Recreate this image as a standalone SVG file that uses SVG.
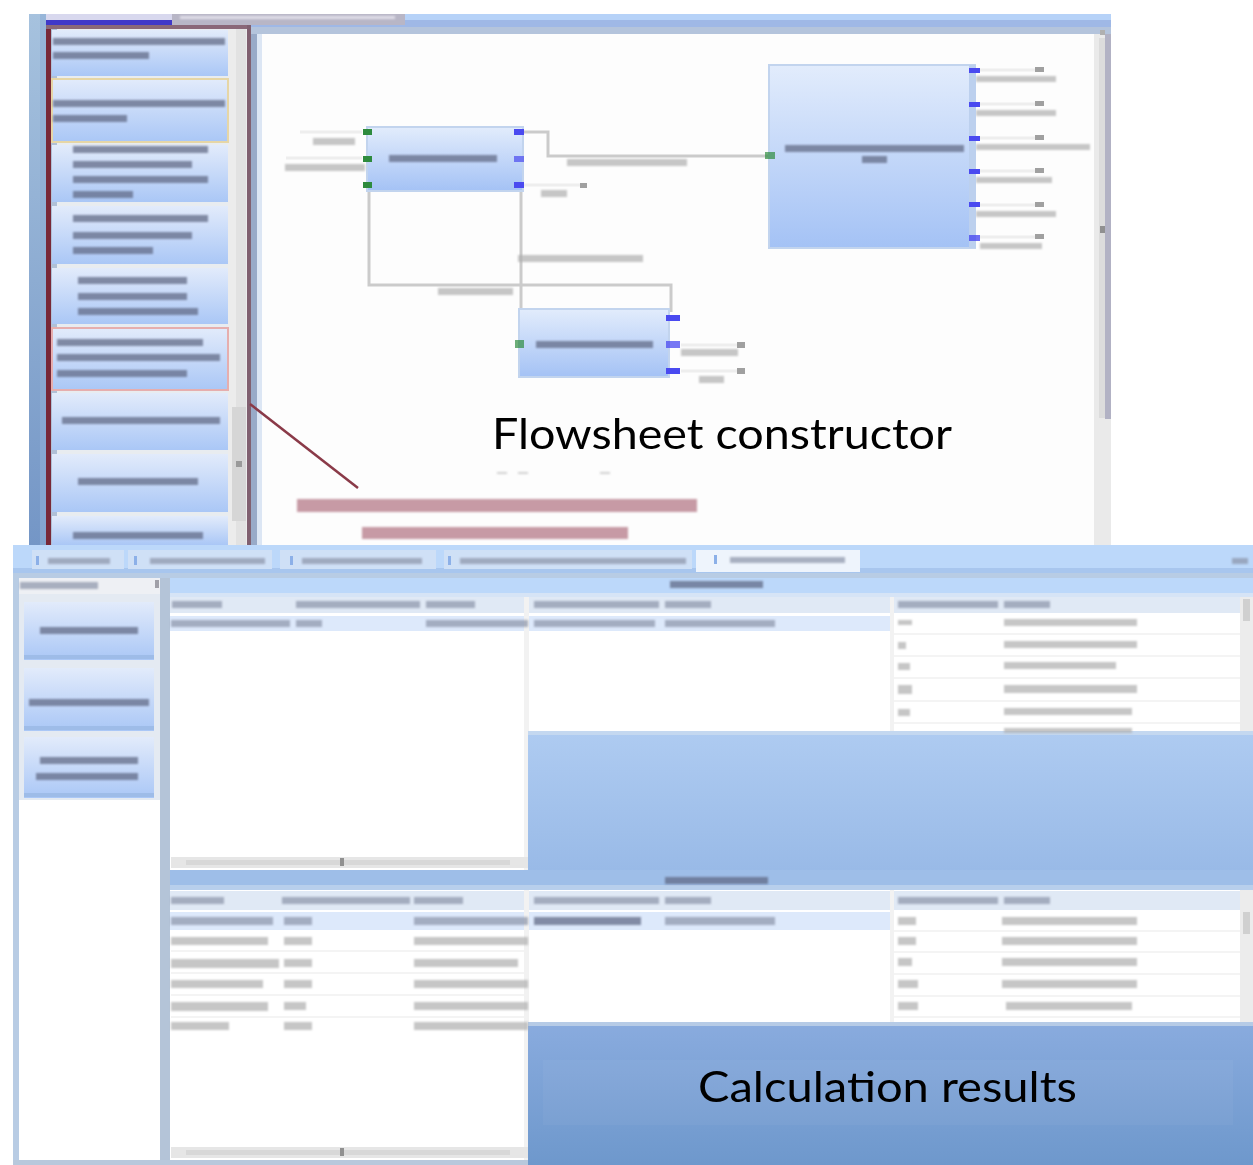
<svg xmlns="http://www.w3.org/2000/svg" width="1253" height="1165" viewBox="0 0 1253 1165">
<defs>
<style>
.t{fill:#5e6884;opacity:.72}
.tl{fill:#a9a9a9;opacity:.8}
.tg{fill:#8a93a8;opacity:.7}
.tv{fill:#b0b0b0;opacity:.72}
.tr{fill:#a4586a;opacity:.6}
.node{fill:url(#ng);stroke:#c2d4ee;stroke-width:2}
.pin{fill:#2e8b3e}
.pout{fill:#4a4af0}
.wire{fill:none;stroke:#cbcbcb;stroke-width:3}
.stub{fill:none;stroke:#eeeeee;stroke-width:3}
.tick{fill:#a0a0a0}
.item{fill:url(#ig)}
.big{font-family:Lato,"Open Sans","Liberation Sans",sans-serif;font-size:43px;fill:#000}
</style>
<linearGradient id="ng" x1="0" y1="0" x2="0" y2="1"><stop offset="0" stop-color="#e2ecfc"/><stop offset="1" stop-color="#a4c2f5"/></linearGradient>
<linearGradient id="ig" x1="0" y1="0" x2="0" y2="1"><stop offset="0" stop-color="#e2ebfb"/><stop offset="1" stop-color="#aac7f6"/></linearGradient>
<linearGradient id="lb" x1="0" y1="0" x2="0" y2="1"><stop offset="0" stop-color="#a6c2de"/><stop offset="1" stop-color="#7496c6"/></linearGradient>
<linearGradient id="up" x1="0" y1="0" x2="0" y2="1"><stop offset="0" stop-color="#aecbf1"/><stop offset="1" stop-color="#99bae7"/></linearGradient>
<linearGradient id="dn" x1="0" y1="0" x2="0" y2="1"><stop offset="0" stop-color="#89abde"/><stop offset="1" stop-color="#6e98cc"/></linearGradient>
<filter id="bl" x="-5%" y="-60%" width="110%" height="220%"><feGaussianBlur stdDeviation="1.1"/></filter>
</defs>

<rect width="1253" height="1165" fill="#ffffff"/>

<!-- ===== Top screenshot: flowsheet constructor ===== -->
<g id="top-window">
<rect x="29" y="14" width="18" height="531" fill="url(#lb)"/>
<rect x="40" y="14" width="6" height="531" fill="#8eaed6" opacity=".6"/>
<rect x="46" y="14" width="1065" height="13" fill="#b6d2f8"/>
<rect x="46" y="20" width="1065" height="7" fill="#9fb8e6"/>
<rect x="46" y="14" width="126" height="7" fill="#d8d8ee"/>
<rect x="46" y="20" width="126" height="6" fill="#4038c8"/>
<rect x="172" y="14" width="233" height="11" fill="#b8b6c6"/>
<g filter="url(#bl)"><rect x="180" y="16" width="215" height="3" fill="#e0dee8"/></g>

<!-- left panel -->
<rect x="51" y="29" width="196" height="516" fill="#e8ecf0"/>
<rect x="51" y="29" width="6" height="516" fill="#b0c0d6"/>
<rect x="228" y="29" width="19" height="516" fill="#ececec"/>
<rect x="236" y="29" width="10" height="516" fill="#e2e2e2"/>
<rect x="232" y="407" width="14" height="114" fill="#d6d6d6"/>
<rect x="236" y="461" width="6" height="6" fill="#9a9a9a"/>

<rect class="item" x="52" y="30" width="176" height="46"/>
<rect class="item" x="52" y="79" width="176" height="63" stroke="#e6d6a6" stroke-width="2"/>
<rect class="item" x="52" y="145" width="176" height="57"/>
<rect class="item" x="52" y="206" width="176" height="58"/>
<rect class="item" x="52" y="268" width="176" height="56"/>
<rect class="item" x="52" y="328" width="176" height="62" stroke="#e6aeae" stroke-width="2"/>
<rect class="item" x="52" y="393" width="176" height="57"/>
<rect class="item" x="52" y="454" width="176" height="58"/>
<rect class="item" x="52" y="516" width="176" height="29"/>

<g filter="url(#bl)">
<rect class="t" x="53" y="38" width="172" height="7"/>
<rect class="t" x="53" y="52" width="96" height="7"/>
<rect class="t" x="53" y="100" width="172" height="7"/>
<rect class="t" x="53" y="115" width="74" height="7"/>
<rect class="t" x="73" y="146" width="135" height="7"/>
<rect class="t" x="73" y="161" width="119" height="7"/>
<rect class="t" x="73" y="176" width="135" height="7"/>
<rect class="t" x="73" y="191" width="60" height="7"/>
<rect class="t" x="73" y="215" width="135" height="7"/>
<rect class="t" x="73" y="232" width="119" height="7"/>
<rect class="t" x="73" y="247" width="80" height="7"/>
<rect class="t" x="78" y="277" width="109" height="7"/>
<rect class="t" x="78" y="293" width="109" height="7"/>
<rect class="t" x="78" y="308" width="120" height="7"/>
<rect class="t" x="57" y="339" width="146" height="7"/>
<rect class="t" x="57" y="354" width="163" height="7"/>
<rect class="t" x="57" y="370" width="130" height="7"/>
<rect class="t" x="62" y="417" width="158" height="7"/>
<rect class="t" x="78" y="478" width="120" height="7"/>
<rect class="t" x="73" y="532" width="130" height="7"/>
</g>

<!-- maroon border -->
<rect x="46" y="25" width="5" height="520" fill="#782838"/>
<rect x="46" y="25" width="205" height="4" fill="#8a6878"/>
<rect x="247" y="25" width="4" height="520" fill="#806070"/>

<!-- canvas -->
<rect x="251" y="27" width="860" height="518" fill="#fdfdfd"/>
<rect x="251" y="27" width="6" height="518" fill="#98aac8"/>
<rect x="257" y="27" width="5" height="518" fill="#dce6f4"/>
<rect x="251" y="27" width="860" height="7" fill="#b4c4dc"/>
<rect x="1094" y="34" width="17" height="511" fill="#eaeaea"/>
<rect x="1099" y="38" width="6" height="380" fill="#dcdcdc"/>
<rect x="1105" y="34" width="6" height="385" fill="#b2b2c4"/>
<rect x="1100" y="226" width="5" height="7" fill="#909090"/>
<rect x="1100" y="30" width="5" height="5" fill="#b0b0b0"/>
</g>

<!-- connectors -->
<g id="connectors">
<polyline class="wire" points="524,132 548,132 548,156 769,156"/>
<polyline class="wire" points="369,192 369,285 671,285 671,312"/>
<polyline class="wire" points="521,188 521,340"/>
<line class="stub" x1="524" y1="185" x2="580" y2="185"/>
<rect class="tick" x="580" y="183" width="7" height="5"/>
<line class="stub" x1="300" y1="132" x2="362" y2="132"/>
<line class="stub" x1="286" y1="158" x2="362" y2="158"/>
<line class="stub" x1="681" y1="345" x2="737" y2="345"/>
<rect class="tick" x="737" y="342" width="8" height="6"/>
<line class="stub" x1="681" y1="371" x2="737" y2="371"/>
<rect class="tick" x="737" y="368" width="8" height="6"/>
<g filter="url(#bl)">
<rect class="tv" x="567" y="159" width="120" height="7"/>
<rect class="tv" x="541" y="190" width="26" height="7"/>
<rect class="tv" x="518" y="255" width="125" height="7"/>
<rect class="tv" x="438" y="288" width="75" height="7"/>
<rect class="tv" x="313" y="138" width="42" height="7"/>
<rect class="tv" x="285" y="164" width="80" height="7"/>
<rect class="tv" x="681" y="349" width="57" height="7"/>
<rect class="tv" x="699" y="376" width="25" height="7"/>
</g>
<!-- outputs of big node -->
<g>
<line class="stub" x1="980" y1="70" x2="1035" y2="70"/><rect class="tick" x="1035" y="67" width="9" height="5"/>
<line class="stub" x1="980" y1="104" x2="1035" y2="104"/><rect class="tick" x="1035" y="101" width="9" height="5"/>
<line class="stub" x1="980" y1="138" x2="1035" y2="138"/><rect class="tick" x="1035" y="135" width="9" height="5"/>
<line class="stub" x1="980" y1="171" x2="1035" y2="171"/><rect class="tick" x="1035" y="168" width="9" height="5"/>
<line class="stub" x1="980" y1="205" x2="1035" y2="205"/><rect class="tick" x="1035" y="202" width="9" height="5"/>
<line class="stub" x1="980" y1="237" x2="1035" y2="237"/><rect class="tick" x="1035" y="234" width="9" height="5"/>
<g filter="url(#bl)">
<rect class="tv" x="976" y="76" width="80" height="6"/>
<rect class="tv" x="976" y="110" width="80" height="6"/>
<rect class="tv" x="976" y="144" width="114" height="6"/>
<rect class="tv" x="976" y="177" width="76" height="6"/>
<rect class="tv" x="976" y="211" width="80" height="6"/>
<rect class="tv" x="980" y="243" width="62" height="6"/>
</g>
</g>
</g>

<g id="node-source">
<rect class="node" x="367" y="127" width="156" height="64"/>
<rect class="pin" x="363" y="129" width="9" height="6"/>
<rect class="pin" x="363" y="156" width="9" height="6"/>
<rect class="pin" x="363" y="182" width="9" height="6"/>
<rect class="pout" x="514" y="129" width="10" height="6"/>
<rect class="pout" x="514" y="156" width="10" height="6" opacity=".7"/>
<rect class="pout" x="514" y="182" width="10" height="6"/>
<g filter="url(#bl)"><rect class="t" x="389" y="155" width="108" height="7"/></g>
</g>

<g id="node-processor">
<rect class="node" x="769" y="65" width="206" height="183"/>
<rect x="969" y="65" width="7" height="183" fill="#bcd0ee"/>
<rect class="pin" x="765" y="152" width="10" height="7" opacity=".7"/>
<rect class="pout" x="969" y="68" width="11" height="5"/>
<rect class="pout" x="969" y="102" width="11" height="5"/>
<rect class="pout" x="969" y="136" width="11" height="5"/>
<rect class="pout" x="969" y="169" width="11" height="5"/>
<rect class="pout" x="969" y="202" width="11" height="5"/>
<rect class="pout" x="969" y="235" width="11" height="6" opacity=".8"/>
<g filter="url(#bl)">
<rect class="t" x="785" y="145" width="179" height="7"/>
<rect class="t" x="862" y="156" width="25" height="7"/>
</g>
</g>

<g id="node-separator">
<rect class="node" x="519" y="309" width="150" height="68"/>
<rect class="pin" x="515" y="340" width="9" height="8" opacity=".7"/>
<rect class="pout" x="666" y="315" width="14" height="6"/>
<rect class="pout" x="666" y="341" width="14" height="7" opacity=".75"/>
<rect class="pout" x="666" y="368" width="14" height="6"/>
<g filter="url(#bl)"><rect class="t" x="536" y="341" width="117" height="7"/></g>
</g>

<!-- annotation -->
<line x1="250" y1="404" x2="358" y2="488" stroke="#8a3a48" stroke-width="2.5"/>
<g filter="url(#bl)">
<rect class="tr" x="297" y="499" width="400" height="13"/>
<rect class="tr" x="362" y="527" width="266" height="12"/>
<rect x="497" y="472" width="10" height="2" fill="#d0d0d0"/>
<rect x="518" y="472" width="10" height="2" fill="#d0d0d0"/>
<rect x="600" y="472" width="10" height="2" fill="#d0d0d0"/>
</g>
<text class="big" x="492" y="449" textLength="460" lengthAdjust="spacingAndGlyphs">Flowsheet constructor</text>

<!-- ===== Bottom screenshot: calculation results ===== -->
<g id="bottom-window">
<rect x="13" y="545" width="1240" height="620" fill="#b8cce4"/>
<rect x="13" y="545" width="1240" height="28" fill="#bcd8fa"/>
<rect x="13" y="568" width="1240" height="5" fill="#a8c6ee"/>
<rect x="32" y="550" width="92" height="19" fill="#cfe0f6"/>
<rect x="128" y="550" width="144" height="19" fill="#cfe0f6"/>
<rect x="280" y="550" width="156" height="19" fill="#cfe0f6"/>
<rect x="444" y="550" width="248" height="19" fill="#cfe0f6"/>
<rect x="696" y="550" width="164" height="22" fill="#eef4fc"/>
<g fill="#8cb0e8"><rect x="36" y="556" width="3" height="9"/><rect x="134" y="556" width="3" height="9"/><rect x="290" y="556" width="3" height="9"/><rect x="448" y="556" width="3" height="9"/><rect x="714" y="555" width="3" height="9"/></g>
<g filter="url(#bl)">
<rect class="tg" x="48" y="558" width="62" height="6"/>
<rect class="tg" x="150" y="558" width="115" height="6"/>
<rect class="tg" x="302" y="558" width="120" height="6"/>
<rect class="tg" x="460" y="558" width="226" height="6"/>
<rect class="tg" x="730" y="557" width="115" height="6"/>
<rect class="tg" x="1232" y="558" width="16" height="6"/>
</g>

<!-- left list panel -->
<rect x="19" y="578" width="141" height="587" fill="#ffffff"/>
<rect x="19" y="578" width="141" height="222" fill="#e4eaf2"/>
<rect x="19" y="578" width="141" height="16" fill="#eef0f4"/>
<rect x="155" y="580" width="4" height="8" fill="#a0a0a8"/>
<rect x="160" y="578" width="10" height="587" fill="#b4c4d8"/>
<rect class="item" x="24" y="602" width="130" height="58"/>
<rect class="item" x="24" y="668" width="130" height="63"/>
<rect class="item" x="24" y="737" width="130" height="61"/>
<rect x="24" y="655" width="130" height="4" fill="#9ebce8"/>
<rect x="24" y="726" width="130" height="4" fill="#9ebce8"/>
<rect x="24" y="793" width="130" height="4" fill="#9ebce8"/>
<g filter="url(#bl)">
<rect class="tg" x="20" y="582" width="78" height="7"/>
<rect class="t" x="40" y="627" width="98" height="7"/>
<rect class="t" x="29" y="699" width="120" height="7"/>
<rect class="t" x="40" y="757" width="98" height="7"/>
<rect class="t" x="36" y="773" width="102" height="7"/>
</g>

<!-- upper result section -->
<rect x="170" y="578" width="1083" height="15" fill="#bcd8fa"/>
<rect x="170" y="593" width="1083" height="4" fill="#d6e4f6"/>
<rect x="170" y="597" width="1075" height="273" fill="#ffffff"/>
<rect x="170" y="597" width="1075" height="16" fill="#e0e9f5"/>
<rect x="170" y="616" width="723" height="15" fill="#dde9fb"/>
<rect x="524" y="597" width="5" height="273" fill="#f2f2f2"/>
<rect x="890" y="597" width="4" height="136" fill="#f2f2f2"/>
<rect x="1240" y="597" width="13" height="136" fill="#ececec"/>
<rect x="1243" y="599" width="7" height="22" fill="#d0d0d0"/>
<rect x="528" y="733" width="725" height="137" fill="url(#up)"/>
<rect x="528" y="731" width="725" height="4" fill="#c4d8f0"/>
<rect x="171" y="857" width="357" height="11" fill="#e6e6e6"/>
<rect x="186" y="860" width="324" height="5" fill="#d8d8d8"/>
<rect x="340" y="858" width="4" height="8" fill="#909090"/>
<g fill="#f4f4f4">
<rect x="894" y="633" width="346" height="2"/><rect x="894" y="655" width="346" height="2"/><rect x="894" y="677" width="346" height="2"/><rect x="894" y="700" width="346" height="2"/><rect x="894" y="722" width="346" height="2"/>
</g>
<g filter="url(#bl)">
<rect class="t" x="670" y="581" width="93" height="7"/>
<rect class="tg" x="172" y="601" width="50" height="7"/>
<rect class="tg" x="296" y="601" width="124" height="7"/>
<rect class="tg" x="426" y="601" width="49" height="7"/>
<rect class="tg" x="534" y="601" width="125" height="7"/>
<rect class="tg" x="665" y="601" width="46" height="7"/>
<rect class="tg" x="898" y="601" width="100" height="7"/>
<rect class="tg" x="1004" y="601" width="46" height="7"/>
<rect class="tg" x="171" y="620" width="119" height="7"/>
<rect class="tg" x="296" y="620" width="26" height="7"/>
<rect class="tg" x="426" y="620" width="102" height="7"/>
<rect class="tg" x="534" y="620" width="121" height="7"/>
<rect class="tg" x="665" y="620" width="110" height="7"/>
<rect class="tv" x="898" y="620" width="14" height="5"/>
<rect class="tv" x="1004" y="619" width="133" height="7"/>
<rect class="tv" x="898" y="642" width="8" height="7"/>
<rect class="tv" x="1004" y="641" width="133" height="7"/>
<rect class="tv" x="898" y="663" width="12" height="7"/>
<rect class="tv" x="1004" y="662" width="112" height="7"/>
<rect class="tv" x="898" y="685" width="14" height="9"/>
<rect class="tv" x="1004" y="685" width="133" height="8"/>
<rect class="tv" x="898" y="709" width="12" height="7"/>
<rect class="tv" x="1004" y="708" width="128" height="7"/>
<rect class="tv" x="1004" y="728" width="128" height="5"/>
</g>

<!-- lower result section -->
<rect x="170" y="870" width="1083" height="18" fill="#9ebee8"/>
<rect x="170" y="885" width="1083" height="5" fill="#b8cfec"/>
<rect x="170" y="890" width="1075" height="270" fill="#ffffff"/>
<rect x="170" y="891" width="1075" height="19" fill="#e0e9f5"/>
<rect x="170" y="912" width="723" height="18" fill="#dde9fb"/>
<rect x="524" y="890" width="5" height="270" fill="#f2f2f2"/>
<rect x="890" y="890" width="4" height="134" fill="#f2f2f2"/>
<rect x="1240" y="890" width="13" height="134" fill="#ececec"/>
<rect x="1243" y="912" width="7" height="22" fill="#d0d0d0"/>
<rect x="528" y="1024" width="725" height="141" fill="url(#dn)"/>
<rect x="528" y="1022" width="725" height="4" fill="#b6cbe6"/>
<rect x="543" y="1060" width="690" height="65" fill="#ffffff" opacity=".04"/>
<rect x="171" y="1147" width="357" height="11" fill="#e6e6e6"/>
<rect x="186" y="1150" width="324" height="5" fill="#d8d8d8"/>
<rect x="340" y="1148" width="4" height="8" fill="#909090"/>
<rect x="13" y="1160" width="515" height="5" fill="#b8c8dc"/>
<g fill="#f4f4f4">
<rect x="171" y="950" width="353" height="2"/><rect x="171" y="972" width="353" height="2"/><rect x="171" y="994" width="353" height="2"/><rect x="171" y="1016" width="353" height="2"/>
<rect x="894" y="930" width="346" height="2"/><rect x="894" y="951" width="346" height="2"/><rect x="894" y="973" width="346" height="2"/><rect x="894" y="995" width="346" height="2"/><rect x="894" y="1016" width="346" height="2"/>
</g>
<g filter="url(#bl)">
<rect class="t" x="665" y="877" width="103" height="7"/>
<rect class="tg" x="171" y="897" width="53" height="7"/>
<rect class="tg" x="282" y="897" width="128" height="7"/>
<rect class="tg" x="414" y="897" width="49" height="7"/>
<rect class="tg" x="534" y="897" width="125" height="7"/>
<rect class="tg" x="665" y="897" width="46" height="7"/>
<rect class="tg" x="898" y="897" width="100" height="7"/>
<rect class="tg" x="1004" y="897" width="46" height="7"/>
<rect class="tg" x="171" y="917" width="102" height="8"/>
<rect class="tg" x="284" y="917" width="28" height="8"/>
<rect class="tg" x="414" y="917" width="114" height="8"/>
<rect class="t" x="534" y="917" width="107" height="8"/>
<rect class="tg" x="665" y="917" width="110" height="8"/>
<rect class="tv" x="171" y="937" width="97" height="8"/>
<rect class="tv" x="284" y="937" width="28" height="8"/>
<rect class="tv" x="414" y="937" width="114" height="8"/>
<rect class="tv" x="171" y="959" width="108" height="9"/>
<rect class="tv" x="284" y="959" width="28" height="8"/>
<rect class="tv" x="414" y="959" width="104" height="8"/>
<rect class="tv" x="171" y="980" width="92" height="8"/>
<rect class="tv" x="284" y="980" width="28" height="8"/>
<rect class="tv" x="414" y="980" width="114" height="8"/>
<rect class="tv" x="171" y="1002" width="97" height="9"/>
<rect class="tv" x="284" y="1002" width="22" height="8"/>
<rect class="tv" x="414" y="1002" width="114" height="8"/>
<rect class="tv" x="171" y="1022" width="58" height="8"/>
<rect class="tv" x="284" y="1022" width="28" height="8"/>
<rect class="tv" x="414" y="1022" width="114" height="8"/>
<rect class="tv" x="898" y="917" width="18" height="8"/>
<rect class="tv" x="1002" y="917" width="135" height="8"/>
<rect class="tv" x="898" y="937" width="18" height="8"/>
<rect class="tv" x="1002" y="937" width="135" height="8"/>
<rect class="tv" x="898" y="958" width="14" height="8"/>
<rect class="tv" x="1002" y="958" width="135" height="8"/>
<rect class="tv" x="898" y="980" width="20" height="8"/>
<rect class="tv" x="1002" y="980" width="135" height="8"/>
<rect class="tv" x="898" y="1002" width="20" height="8"/>
<rect class="tv" x="1006" y="1002" width="126" height="8"/>
</g>
</g>
<text class="big" x="698" y="1102" textLength="379" lengthAdjust="spacingAndGlyphs">Calculation results</text>
</svg>
